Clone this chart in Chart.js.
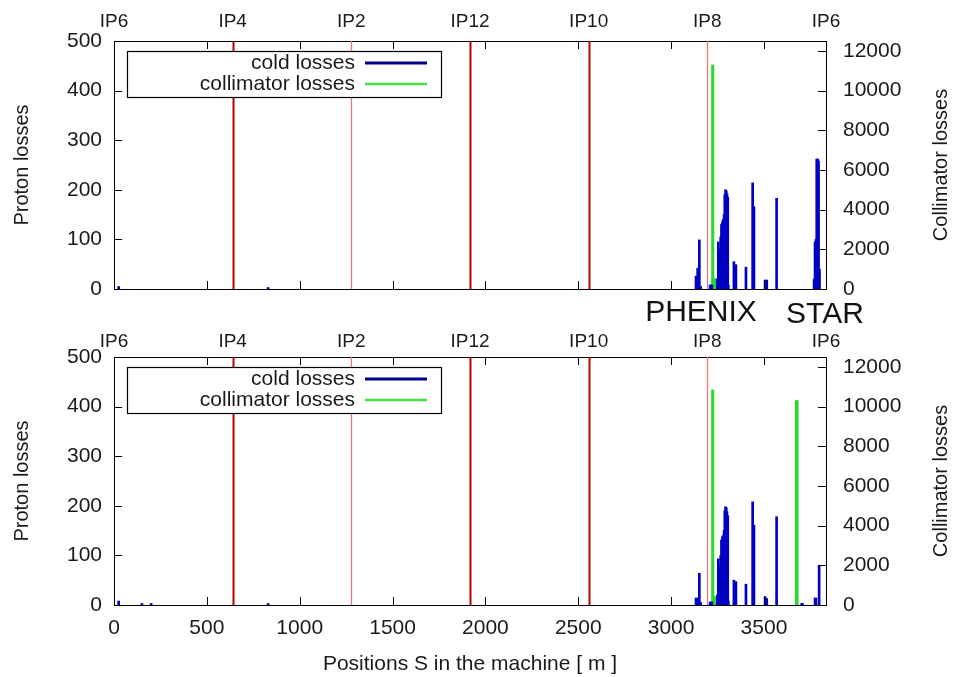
<!DOCTYPE html>
<html><head><meta charset="utf-8">
<script src="https://cdn.jsdelivr.net/npm/chart.js@4/dist/chart.umd.min.js"></script>
<style>
html,body{margin:0;padding:0;background:#fff;width:956px;height:677px;overflow:hidden;}
canvas{position:absolute;left:0;}
#c1{top:0;}
#c2{top:316px;}
</style></head><body>
<canvas id="c1" width="956" height="330"></canvas>
<canvas id="c2" width="956" height="361"></canvas>
<script>
// ---- data ----
const ipNames = ['IP6','IP4','IP2','IP12','IP10','IP8','IP6'];
const ipPositions = [0,639,1278,1917,2556,3195,3834];
const ipLineNames = ['IP4','IP2','IP12','IP10','IP8'];
const ipLinePositions = [639,1278,1917,2556,3195];
const xTickValues = [0,500,1000,1500,2000,2500,3000,3500];
const yTickValues = [0,100,200,300,400,500];
const y2TickValues = [0,2000,4000,6000,8000,10000,12000];
const seriesNames = ['cold losses','collimator losses'];

const topColdS = [25,830,3134,3143,3152,3159,3210,3215,3219,3249,3254,3258,3262,3267,3271,3276,3280,3285,3289,3293,3297,3301,3305,3308,3338,3349,3403,3439,3446,3506,3515,3568,3770,3775,3780,3784,3789,3794,3799];
const topColdV = [5,3,26,42,99,5,8,8,8,20,95,60,80,105,130,135,140,150,190,200,198,192,185,8,55,49,44,214,166,18,18,183,20,95,100,262,262,258,40];
const topCollS = [3224,3230,3237,3243];
const topCollV = [11290,550,520,300];

const botColdS = [25,150,200,830,3134,3143,3152,3159,3210,3215,3219,3249,3254,3258,3262,3267,3271,3276,3280,3285,3289,3293,3297,3301,3305,3308,3338,3349,3403,3439,3446,3506,3515,3568,3703,3708,3775,3780,3797];
const botColdV = [8,3,3,3,14,14,64,5,6,6,6,20,93,60,80,100,131,137,140,150,190,198,196,188,180,8,50,47,42,208,161,17,13,178,3,3,14,14,80];
const botCollS = [3224,3230,3237,3243,3675,3678];
const botCollV = [10840,420,420,300,10300,10300];

// ---- styles ----
const FONT = 'Liberation Sans, Arial, sans-serif';
const TXT = '#1a1a1a';
const BLUE = '#0000c4';
const GREEN = '#2ed82e';

function pts(S,V){ return S.map((s,i)=>({x:s,y:V[i]})); }

const overlay = {
  id:'overlay',
  beforeDatasetsDraw(chart){
    const {ctx, chartArea:a, scales} = chart;
    ctx.save();
    ipLinePositions.forEach((v,i)=>{
      const px = scales.x.getPixelForValue(v);
      const light = (ipLineNames[i]==='IP2' || ipLineNames[i]==='IP8');
      ctx.strokeStyle = light ? '#e37b7b' : '#b80000';
      ctx.lineWidth = light ? 1.3 : 2;
      ctx.beginPath(); ctx.moveTo(Math.round(px)+0.5,a.top); ctx.lineTo(Math.round(px)+0.5,a.bottom); ctx.stroke();
    });
    ctx.restore();
  },
  afterDraw(chart){
    const {ctx, chartArea:a, scales} = chart;
    const o = chart.options.plugins.overlay;
    ctx.save();
    // inward ticks
    ctx.strokeStyle = '#000'; ctx.lineWidth = 1;
    const tl = 8;
    xTickValues.forEach(v=>{
      const px = Math.round(scales.x.getPixelForValue(v))+0.5;
      ctx.beginPath(); ctx.moveTo(px,a.bottom); ctx.lineTo(px,a.bottom-tl);
      ctx.moveTo(px,a.top); ctx.lineTo(px,a.top+tl); ctx.stroke();
    });
    yTickValues.forEach(v=>{
      const py = Math.round(scales.y.getPixelForValue(v))+0.5;
      ctx.beginPath(); ctx.moveTo(a.left,py); ctx.lineTo(a.left+tl,py); ctx.stroke();
    });
    y2TickValues.forEach(v=>{
      const py = Math.round(scales.y2.getPixelForValue(v))+0.5;
      ctx.beginPath(); ctx.moveTo(a.right,py); ctx.lineTo(a.right-tl,py); ctx.stroke();
    });
    // legend box
    const lx = a.left+13, ly = a.top+10, lw = 314, lh = 46;
    ctx.fillStyle = '#fff';
    ctx.fillRect(lx,ly,lw,lh);
    ctx.strokeStyle = '#000'; ctx.lineWidth = 1.2;
    ctx.strokeRect(lx+0.5,ly+0.5,lw,lh);
    ctx.font = '21px ' + FONT;
    ctx.fillStyle = TXT; ctx.textAlign = 'right'; ctx.textBaseline = 'middle';
    ctx.fillText(seriesNames[0], lx+228, ly+12);
    ctx.fillText(seriesNames[1], lx+228, ly+33);
    ctx.lineWidth = 3; ctx.strokeStyle = '#00008b';
    ctx.beginPath(); ctx.moveTo(lx+238,ly+12); ctx.lineTo(lx+300,ly+12); ctx.stroke();
    ctx.lineWidth = 2.5; ctx.strokeStyle = '#44e044';
    ctx.beginPath(); ctx.moveTo(lx+238,ly+33); ctx.lineTo(lx+300,ly+33); ctx.stroke();
    // right axis title (reads bottom to top)
    ctx.save();
    ctx.translate(941,(a.top+a.bottom)/2);
    ctx.rotate(-Math.PI/2);
    ctx.font = '20px ' + FONT; ctx.textAlign='center'; ctx.textBaseline='middle'; ctx.fillStyle = TXT;
    ctx.fillText('Collimator losses',0,0);
    ctx.restore();
    // experiment labels
    if (o && o.experiments){
      ctx.font = '30px ' + FONT; ctx.fillStyle = '#111'; ctx.textAlign='center'; ctx.textBaseline='middle';
      ctx.fillText('PHENIX', 701, 313);
      ctx.fillText('STAR', 825, 315);
    }
    ctx.restore();
  }
};

function makeChart(id, coldS, coldV, collS, collV, bottom){
  const tickFont = {family:FONT, size:21};
  const plain = v => String(v);
  return new Chart(document.getElementById(id), {
    type:'bar',
    data:{ datasets:[
      {label:seriesNames[0], data:pts(coldS,coldV), yAxisID:'y', xAxisID:'x', backgroundColor:BLUE, borderWidth:0, barThickness:2, grouped:false},
      {label:seriesNames[1], data:pts(collS,collV), yAxisID:'y2', xAxisID:'x', backgroundColor:GREEN, borderWidth:0, barThickness:2.5, grouped:false}
    ]},
    options:{
      responsive:false, animation:false, devicePixelRatio:1,
      layout:{padding:0},
      plugins:{ legend:{display:false}, tooltip:{enabled:false}, overlay:{experiments:!bottom} },
      scales:{
        x:{ type:'linear', position:'bottom', min:0, max:3834, offset:false,
            grid:{display:false, drawTicks:false}, border:{display:true,color:'#000',width:1},
            afterBuildTicks(s){ s.ticks = xTickValues.map(v=>({value:v})); },
            ticks:{display:bottom, font:tickFont, color:TXT, padding:11, maxRotation:0, autoSkip:false, callback:plain},
            title:{display:bottom, text:'Positions S in the machine [ m ]', font:{family:FONT,size:21}, color:TXT, padding:{top:4,bottom:0}},
            afterFit(s){ s.height = bottom ? 72 : 41; } },
        x2:{ type:'linear', position:'top', min:0, max:3834, offset:false,
            grid:{display:false, drawTicks:false}, border:{display:true,color:'#000',width:1},
            afterBuildTicks(s){ s.ticks = ipPositions.map(v=>({value:v})); },
            ticks:{font:{family:FONT,size:19}, color:TXT, padding:bottom ? 4 : 8, maxRotation:0, autoSkip:false,
                   callback:(v,i)=>ipNames[i]},
            afterFit(s){ s.height = 41; } },
        y:{ position:'left', min:0, max:500,
            grid:{display:false, drawTicks:false}, border:{display:true,color:'#000',width:1},
            afterBuildTicks(s){ s.ticks = yTickValues.map(v=>({value:v})); },
            ticks:{font:tickFont, color:TXT, padding:12, callback:plain},
            title:{display:true, text:'Proton losses', font:{family:FONT,size:20}, color:TXT, padding:{top:10,bottom:0}},
            afterFit(s){ s.width = 114; } },
        y2:{ position:'right', min:0, max:12500,
            grid:{display:false, drawTicks:false}, border:{display:true,color:'#000',width:1},
            afterBuildTicks(s){ s.ticks = y2TickValues.map(v=>({value:v})); },
            ticks:{font:tickFont, color:TXT, padding:17, callback:plain},
            afterFit(s){ s.width = 130; } }
      }
    },
    plugins:[overlay]
  });
}

makeChart('c1', topColdS, topColdV, topCollS, topCollV, false);
makeChart('c2', botColdS, botColdV, botCollS, botCollV, true);
</script>
</body></html>
